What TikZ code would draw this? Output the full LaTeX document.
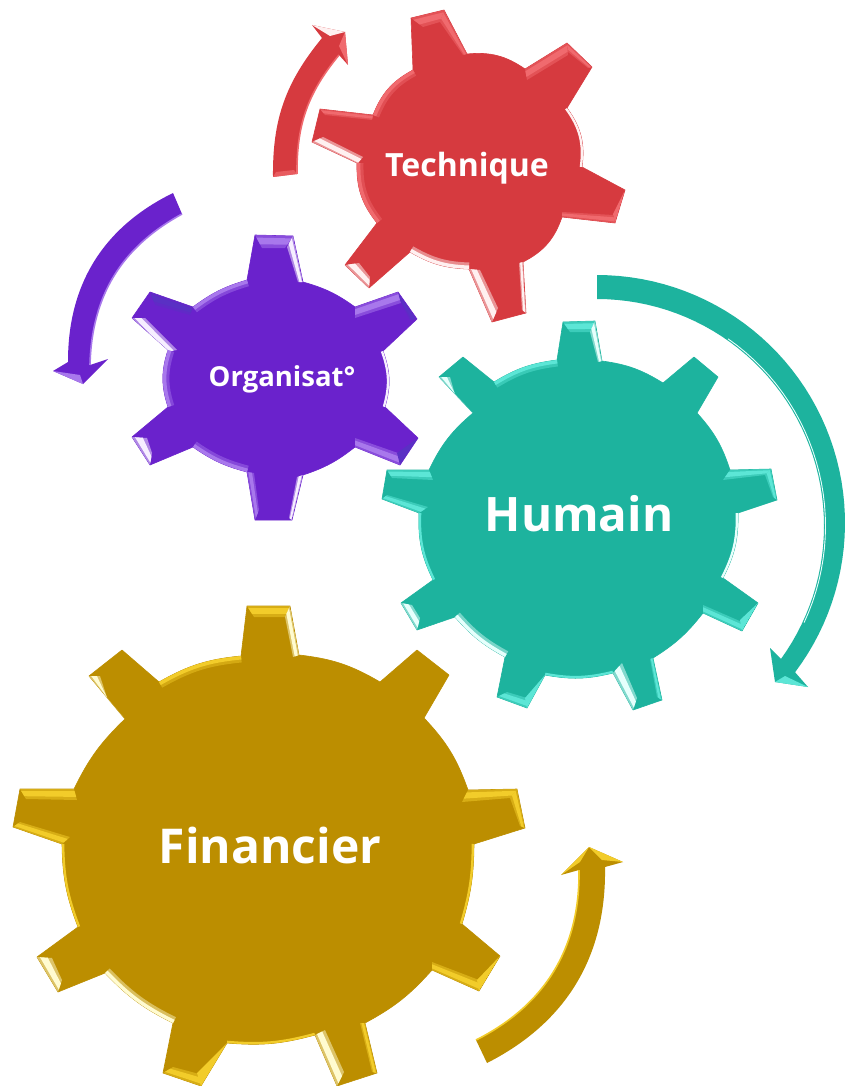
\documentclass[tikz,border=0pt]{standalone}
\usepackage{fontspec}
\usetikzlibrary{calc}
\setmainfont{Open Sans}
\definecolor{redb}{HTML}{D63A3F}\definecolor{redm}{HTML}{F06A6E}\definecolor{redw}{HTML}{FFF0F0}
\definecolor{purb}{HTML}{6A22CC}\definecolor{purm}{HTML}{A878EC}\definecolor{purw}{HTML}{F6EEFF}\definecolor{purd}{HTML}{5A30C4}
\definecolor{teab}{HTML}{1DB39E}\definecolor{team}{HTML}{5CE6D6}\definecolor{teaw}{HTML}{E6FFFC}
\definecolor{golb}{HTML}{BC8E00}\definecolor{golm}{HTML}{F2CC2A}\definecolor{golw}{HTML}{FFFBD0}
\tikzset{
 gearbody/.style={fill=#1,draw=#1,line width=.6pt,line join=round},
 lbl/.style={text=white,inner sep=0pt,anchor=center},
}
\newcommand{\bv}[5]{\fill[#1,opacity=.5] #2 -- #3 -- #4 -- #5 -- cycle;
 \fill[#1] ($#2!.2!#5$) -- ($#3!.2!#4$) -- ($#3!.72!#4$) -- ($#2!.72!#5$) -- cycle;}
\newcommand{\tr}[4]{\fill[#1] #2 -- #3 -- #4 -- cycle;}
\newcommand{\rmm}[4]{\draw[#1,opacity=.45,line width=13pt] #2 to[bend left=#3] #4;
 \draw[#1,line width=7pt] #2 to[bend left=#3] #4;}
\newcommand{\rmt}[4]{\draw[#1,line width=4.6pt] #2 to[bend left=#3] #4;}
\newcommand{\gearT}{(411,18)--(444,10)--(467,54) to[bend left=20] (525,69)--(567,43)--(592,67)--(567,108)
 to[bend left=22] (582,167)--(625,190)--(615,223)--(562,217) to[bend left=22] (523,262)--(526,313)--(492,322)--(469,269)
 to[bend left=14] (410,252)--(369,288)--(345,265)--(377,223) to[bend left=20] (357,163)--(312,142)--(320,109)--(373,115)
 to[bend left=20] (413,70)--cycle}
\newcommand{\gearO}{(255,235)--(293,236)--(303,282) to[bend left=10] (355,307)--(398,292)--(417,319)--(383,351)
 to[bend left=18] (385,407)--(418,438)--(400,465)--(355,447) to[bend left=10] (303,475)--(292,520)--(255,520)--(247,472)
 to[bend left=10] (193,447)--(150,465)--(132,437)--(168,407) to[bend left=18] (168,350)--(132,318)--(150,292)--(193,307)
 to[bend left=10] (247,280)--cycle}
\newcommand{\gearH}{(563,322)--(595,321)--(602,361) to[bend left=12] (663,383)--(694,357)--(718,377)--(697,413)
 to[bend left=12] (730,470)--(771,469)--(777,500)--(738,513) to[bend left=14] (723,578)--(758,603)--(742,631)--(703,613)
 to[bend left=10] (653,658)--(662,700)--(633,710)--(613,673) to[bend left=12] (545,675)--(527,708)--(497,697)--(505,657)
 to[bend left=10] (455,617)--(417,630)--(401,603)--(433,580) to[bend left=14] (419,513)--(382,499)--(387,470)--(429,470)
 to[bend left=12] (473,413)--(439,377)--(463,357)--(494,382) to[bend left=12] (557,360)--cycle}
\newcommand{\gearF}{(247,606)--(290,606)--(299,655) to[bend left=12] (380,682)--(417,650)--(449,675)--(424,718)
 to[bend left=12] (468,790)--(517,789)--(525,828)--(474,844) to[bend left=8] (462,924)--(500,956)--(479,991)--(432,970)
 to[bend left=10] (365,1023)--(377,1073)--(337,1086)--(315,1035) to[bend left=10] (227,1043)--(201,1086)--(163,1073)--(173,1023)
 to[bend left=10] (105,973)--(58,992)--(37,957)--(78,927) to[bend left=10] (62,844)--(13,827)--(20,789)--(74,789)
 to[bend left=10] (125,719)--(89,676)--(122,650)--(159,682) to[bend left=12] (241,656)--cycle}
\begin{document}
\begin{tikzpicture}[x=1pt,y=-1pt]
\useasboundingbox (0,0) rectangle (845,1086);
\fill[white] (0,0) rectangle (845,1086);

% ---------- Technique
\draw[gearbody=redb] \gearT;
\begin{scope}
\clip \gearT;
\bv{redm}{(411,18)}{(444,10)}{(440,22)}{(423,27)}
\bv{redm}{(467,54)}{(444,10)}{(440,22)}{(463,55)}
\bv{redm}{(525,69)}{(567,43)}{(568,55)}{(527,80)}
\bv{redm}{(592,67)}{(567,43)}{(568,52)}{(588,68)}
\bv{redw}{(312,142)}{(357,164)}{(363,157)}{(323,137)}
\bv{redm}{(320,109)}{(373,115)}{(372,120)}{(325,115)}
\bv{redw}{(345,265)}{(369,288)}{(370,277)}{(359,263)}
\bv{redm}{(615,223)}{(562,217)}{(562,212)}{(613,215)}
\tr{redm}{(625,190)}{(615,223)}{(613,214)}
\bv{redw}{(469,269)}{(492,322)}{(498,308)}{(480,270)}
\bv{redw}{(523,262)}{(526,313)}{(522,310)}{(519,263)}
\rmm{redw}{(469,269)}{14}{(410,252)}
\rmm{redm}{(373,115)}{20}{(413,70)}
\rmm{redm}{(377,223)}{20}{(357,163)}
\rmt{redw}{(567,108)}{22}{(582,167)}
\end{scope}

% Technique arrow
\fill[redb] (273,177) to[bend left=20] (322,38)--(312,25)--(345,32)--(348,65)--(339,55) to[bend right=20] (297,174)--cycle;
\tr{redw}{(312,25)}{(345,32)}{(330,36)}
\tr{redm}{(345,32)}{(348,65)}{(339,46)}
\draw[redm,line width=1.6pt] (339,55) to[bend right=20] (297,174);
\fill[redm,opacity=.7] (273,177)--(297,174)--(294,170)--(276,172)--cycle;

% ---------- Organisat
\draw[gearbody=purb] \gearO;
\begin{scope}
\clip \gearO;
\bv{purm}{(255,235)}{(293,236)}{(285,248)}{(262,248)}
\bv{purw}{(303,282)}{(293,236)}{(287,247)}{(298,282)}
\bv{purm}{(355,307)}{(398,292)}{(401,303)}{(355,318)}
\bv{purd}{(417,319)}{(398,292)}{(401,303)}{(410,320)}
\bv{purw}{(132,318)}{(165,352)}{(177,350)}{(145,318)}
\bv{purd}{(150,292)}{(193,307)}{(190,315)}{(155,305)}
\bv{purw}{(132,437)}{(150,465)}{(152,453)}{(147,438)}
\bv{purm}{(400,465)}{(355,447)}{(355,438)}{(398,453)}
\tr{purd}{(418,438)}{(400,465)}{(397,453)}
\bv{purm}{(247,472)}{(255,520)}{(259,510)}{(254,473)}
\bv{purw}{(303,475)}{(292,520)}{(289,518)}{(297,477)}
\rmm{purm}{(193,307)}{10}{(247,280)}
\rmm{purm}{(247,472)}{10}{(193,447)}
\rmm{purm}{(168,407)}{18}{(168,350)}
\rmt{purw}{(383,351)}{18}{(385,407)}
\end{scope}

% Organisat arrow
\fill[purb] (173,193) to[bend right=32] (68,362)--(53,371)--(83,384)--(108,359)--(90,365) to[bend left=30] (182,214)--cycle;
\tr{purm}{(53,371)}{(83,384)}{(80,375)}
\draw[purm,line width=1.6pt] (90,365) to[bend left=30] (182,214);

% ---------- Humain
\draw[gearbody=teab] \gearH;
\begin{scope}
\clip \gearH;
\bv{team}{(563,322)}{(595,321)}{(590,332)}{(570,332)}
\bv{teaw}{(602,361)}{(595,321)}{(590,332)}{(598,362)}
\bv{teaw}{(439,377)}{(473,413)}{(460,412)}{(450,377)}
\bv{team}{(730,470)}{(771,469)}{(765,475)}{(723,480)}
\bv{team}{(777,500)}{(771,469)}{(765,475)}{(773,497)}
\bv{team}{(387,470)}{(429,470)}{(433,480)}{(392,478)}
\bv{team}{(382,499)}{(419,513)}{(428,507)}{(387,495)}
\bv{teaw}{(401,603)}{(417,630)}{(420,618)}{(412,605)}
\bv{team}{(742,631)}{(703,613)}{(703,605)}{(742,622)}
\tr{team}{(758,603)}{(742,631)}{(740,620)}
\bv{team}{(497,697)}{(527,708)}{(527,698)}{(507,692)}
\tr{team}{(545,675)}{(527,708)}{(525,698)}
\bv{teaw}{(613,673)}{(633,710)}{(637,698)}{(622,663)}
\bv{team}{(653,658)}{(662,700)}{(657,697)}{(650,659)}
\rmm{teaw}{(505,657)}{10}{(455,617)}
\rmm{team}{(494,382)}{12}{(557,360)}
\rmt{team}{(433,580)}{14}{(419,513)}
\rmt{teaw}{(738,513)}{14}{(723,578)}
\rmt{team}{(613,673)}{12}{(545,675)}
\end{scope}

% Humain arrow
\fill[teab] plot[domain=-90:37,samples=50] ({597+248*cos(\x)},{523+248*sin(\x)})
 --(808,687)--(775,682)--(770,648)--(781,659)
 -- plot[domain=36:-90,samples=50] ({597+227*cos(\x)},{526+227*sin(\x)}) --cycle;
\draw[teaw,line width=.9pt] plot[domain=-55:25,samples=30] ({597+228.5*cos(\x)},{526+228.5*sin(\x)});
\tr{team}{(808,687)}{(775,682)}{(785,676)}

% ---------- Financier
\draw[gearbody=golb] \gearF;
\begin{scope}
\clip \gearF;
\bv{golm}{(247,606)}{(290,606)}{(285,617)}{(254,617)}
\bv{golw}{(299,655)}{(290,606)}{(285,617)}{(293,657)}
\bv{golw}{(89,676)}{(125,719)}{(114,719)}{(100,676)}
\bv{golm}{(468,790)}{(517,789)}{(510,798)}{(462,802)}
\bv{golm}{(525,828)}{(517,789)}{(510,798)}{(520,826)}
\bv{golm}{(20,789)}{(74,789)}{(77,800)}{(26,799)}
\bv{golm}{(13,827)}{(62,844)}{(70,837)}{(20,822)}
\bv{golw}{(37,957)}{(58,992)}{(62,980)}{(52,958)}
\bv{golm}{(479,991)}{(432,970)}{(432,962)}{(479,980)}
\tr{golm}{(500,956)}{(479,991)}{(477,980)}
\bv{golm}{(163,1073)}{(201,1086)}{(203,1075)}{(173,1067)}
\tr{golm}{(227,1043)}{(201,1086)}{(197,1073)}
\bv{golw}{(315,1035)}{(337,1086)}{(344,1072)}{(325,1030)}
\bv{golm}{(365,1023)}{(377,1073)}{(372,1072)}{(360,1023)}
\rmm{golw}{(173,1023)}{10}{(105,973)}
\rmm{golm}{(159,682)}{12}{(241,656)}
\rmt{golm}{(78,927)}{10}{(62,844)}
\rmt{golm}{(474,844)}{8}{(462,924)}
\rmt{golm}{(315,1035)}{10}{(227,1043)}
\end{scope}

% Financier arrow
\fill[golb] (487,1063) to[bend right=32] (605,867)--(623,862)--(589,847)--(561,875)--(579,870) to[bend left=32] (476,1040)--cycle;
\tr{golm}{(589,847)}{(623,862)}{(602,860)}
\tr{golm}{(589,847)}{(561,875)}{(580,862)}
\draw[golm,line width=1.6pt] (579,870) to[bend left=32] (476,1040);

% ---------- labels
\node[lbl,font=\bfseries\fontsize{32}{38}\selectfont] (t) at (467,168) {Technique};
\node[lbl,font=\bfseries\fontsize{27.5}{32}\selectfont] (o) at (282,379) {Organisat°};
\node[lbl,font=\bfseries\fontsize{47.5}{56}\selectfont] (h) at (579,514) {Humain};
\node[lbl,font=\bfseries\fontsize{48}{56}\selectfont] (f) at (270,845) {Financier};
\end{tikzpicture}
\end{document}
